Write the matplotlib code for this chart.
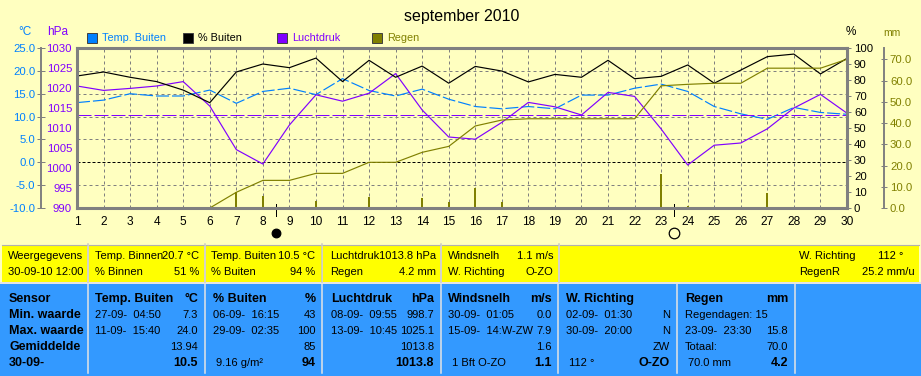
import matplotlib
matplotlib.use("Agg")
import matplotlib.pyplot as plt
from matplotlib.patches import Rectangle
from matplotlib.transforms import blended_transform_factory as btf

plt.rcParams['font.family'] = ['Liberation Sans', 'DejaVu Sans']
plt.rcParams['lines.scale_dashes'] = False

days = list(range(1, 31))
temp = [13.05,13.6,15.0,14.5,14.5,15.8,12.9,15.5,16.2,14.8,18.3,15.7,14.5,16.0,13.8,
        12.2,11.7,12.2,11.7,14.7,14.7,16.2,17.1,15.5,12.2,10.6,9.4,12.0,10.9,10.5]
hum = [82.5,85,81.7,79,73.7,65.8,85,90,87.7,93.7,79,92.3,81.7,88.7,78,
       88.5,85.6,78.8,83.5,81.7,92.3,80.8,82.3,89.4,78,86.2,94.6,96.2,83.8,93.5]
press = [1020.5,1019.4,1019.9,1020.5,1021.6,1015.5,1004.6,1001,1010.75,1018.3,1016.7,1018.7,1023.6,1014.5,1007.75,
         1007.2,1011.4,1016.4,1015.3,1013.25,1018.9,1017.9,1009.75,1000.75,1005.7,1006.25,1009.8,1015,1018.4,1013.7]
rain_days = days[5:]
rain_total = [0,7.4,13,13,16.3,16.3,21.5,21.5,26.2,29,38.6,41.4,42,42,42,42,42,57.5,58.2,58.7,58.7,65.8,65.8,65.8,70]
bar_days = [7,8,10,12,14,15,16,17,23,24,27,30]
bar_vals = [7.4,5.6,3.4,5.2,4.7,3.0,9.3,2.8,16.0,0.8,7.0,4.2]
press_mean = 1013.2
moon_days = [8.5, 23.5]

temp_ticks = [-10,-5,0,5,10,15,20,25]
press_ticks = list(range(990,1031,5))
hum_ticks = list(range(0,101,10))
rain_ticks = [0,10,20,30,40,50,60,70]

W, H = 921, 376
BG = '#FFFFC0'; BLUE = '#0080FF'; PUR = '#8000FF'; OLV = '#808000'; GRY = '#808080'
PANEL_BLUE = '#3399FF'; PANEL_YEL = '#FFFF00'; SEP = '#E4E4E4'
px = 72/100
LW = 0.85

fig = plt.figure(figsize=(W/100, H/100), dpi=100, facecolor=BG)
pos = [77/W, 1-208/H, 770/W, 160/H]

bg = fig.add_axes([0,0,1,1]); bg.set_xlim(0,W); bg.set_ylim(H,0); bg.axis('off')

def mk():
    a = fig.add_axes(pos); a.patch.set_visible(False); a.set_xlim(1,30)
    for s in a.spines.values(): s.set_visible(False)
    a.set_xticks([]); a.set_yticks([]); a.minorticks_off()
    return a

ax_t = mk(); ax_p = mk(); ax_h = mk(); ax_r = mk()
ax_t.set_ylim(-10,25); ax_p.set_ylim(990,1030); ax_h.set_ylim(0,100); ax_r.set_ylim(0,75.3)

# grid
for d in days[1:-1]:
    ax_t.axvline(d, color=GRY, lw=px, ls=(0,(3*px,3*px)))
for t in [-5,5,10,15,20]:
    ax_t.axhline(t, color=GRY, lw=px, ls=(0,(3*px,3*px)))
ax_t.axhline(0, color='black', lw=px, ls=(0,(3*px,2*px)))

# temp axis
ax_t.set_yticks(temp_ticks)
ax_t.set_yticklabels([f'{v:.1f}' for v in temp_ticks])
ax_t.spines['left'].set_visible(True); ax_t.spines['left'].set_position(('outward', 36*px))
ax_t.spines['left'].set_color(GRY); ax_t.spines['left'].set_linewidth(1.4)
ax_t.tick_params(axis='y', direction='inout', length=6, width=px, color=GRY, pad=1,
                 labelsize=8.2, labelcolor=BLUE)
ax_t.plot(days, temp, color=BLUE, lw=LW, ls=(0,(13*px,3*px)), zorder=3)

# pressure
ax_p.set_yticks(press_ticks)
ax_p.set_yticklabels([str(v) for v in press_ticks])
ax_p.tick_params(axis='y', length=0, pad=3.6, labelsize=8.2, labelcolor=PUR)
ax_p.axhline(press_mean, color=PUR, lw=px, ls=(0,(14*px,3*px)))
ax_p.plot(days, press, color=PUR, lw=LW, zorder=4)

# humidity
ax_h.yaxis.tick_right()
ax_h.set_yticks(hum_ticks)
ax_h.set_yticklabels([str(v) for v in hum_ticks])
ax_h.tick_params(axis='y', length=3, width=px, color=GRY, pad=2, labelsize=8.2, labelcolor='black')
ax_h.plot(days, hum, color='black', lw=LW, zorder=4)

# rain
ax_r.yaxis.tick_right()
ax_r.set_yticks(rain_ticks)
ax_r.set_yticklabels([f'{v:.1f}' for v in rain_ticks])
ax_r.spines['right'].set_visible(True); ax_r.spines['right'].set_position(('outward', 37*px))
ax_r.spines['right'].set_color(GRY); ax_r.spines['right'].set_linewidth(1.4)
ax_r.tick_params(axis='y', direction='inout', length=4.5, width=px, color=GRY, pad=2,
                 labelsize=8.2, labelcolor=OLV)
ax_r.vlines(bar_days, 0, bar_vals, color=OLV, lw=2*px, zorder=3)
ax_r.plot(rain_days, rain_total, color=OLV, lw=LW, zorder=4)

# frame + x labels on top axis
top = mk()
top.set_ylim(0,1)
for s in top.spines.values():
    s.set_visible(True); s.set_color(GRY); s.set_linewidth(2.2)
top.set_xticks(days)
top.set_xticklabels([str(d) for d in days])
top.tick_params(axis='x', length=0, pad=6, labelsize=8.6, labelcolor='black')
tr = btf(top.transData, bg.transData)
for m, fc, ms in zip(moon_days, ['black', 'none'], [6.2, 7.6]):
    top.plot([m, m], [204, 216], color='black', lw=px, transform=tr, clip_on=False)
    top.plot([m], [233], marker='o', ms=ms, mfc=fc, mec='black', mew=0.9, transform=tr, clip_on=False)

# title, units, legend
bg.text(462, 16, 'september 2010', ha='center', va='center', fontsize=11.5, color='black')
bg.text(25, 32, '°C', ha='center', va='center', fontsize=8.5, color=BLUE)
bg.text(58, 32, 'hPa', ha='center', va='center', fontsize=8.5, color=PUR)
bg.text(851, 32, '%', ha='center', va='center', fontsize=8.5, color='black')
bg.text(892, 33, 'mm', ha='center', va='center', fontsize=7.5, color=OLV)

legend_names = ['Temp. Buiten', '% Buiten', 'Luchtdruk', 'Regen']
legend_x = [87, 183, 277, 372]
legend_cols = [BLUE, 'black', PUR, OLV]
for n, x, c in zip(legend_names, legend_x, legend_cols):
    bg.add_patch(Rectangle((x, 33), 10, 10, fc=c, ec='#404040', lw=0.7))
    bg.text(x+15, 38, n, va='center', ha='left', fontsize=7.8, color=c)

# panels
yel_cols = [(2,87),(89,204),(206,322),(323,440),(442,558),(560,919)]
blue_cols = [(2,87),(89,204),(206,322),(323,440),(442,558),(559,676),(678,795),(796,921)]
bg.add_patch(Rectangle((0,282),W,2,fc=SEP,ec='none'))
for a,b in yel_cols:
    bg.add_patch(Rectangle((a,245),b-a,37,fc=PANEL_YEL,ec='none'))
    bg.plot([a,b],[244.5,244.5],color='#B0B0B0',lw=0.8)
bg.add_patch(Rectangle((0,284),W,92,fc=PANEL_BLUE,ec='none'))
for a,_ in blue_cols[1:]:
    bg.plot([a-1,a-1],[284,373],color=SEP,lw=1.1)
for a,_ in yel_cols[1:]:
    bg.plot([a-1,a-1],[244,282],color='#C8C8C8',lw=1.1)

FS = 8
def T(x,y,s,ha='left',w='normal',fs=FS):
    bg.text(x,y,s,ha=ha,va='center',fontsize=fs,fontweight=w,color='black')

yellow_left = [(8,'Weergegevens','30-09-10 12:00'),(95,'Temp. Binnen','% Binnen'),(211,'Temp. Buiten','% Buiten'),
               (330,'Luchtdruk','Regen'),(448,'Windsnelh','W. Richting'),(799,'W. Richting','RegenR')]
yellow_right = [(199,'20.7 °C','51 %'),(315,'10.5 °C','94 %'),(436,'1013.8 hPa','4.2 mm'),
                (553,'1.1 m/s','O-ZO')]
for x,a,b in yellow_left:
    T(x,256,a); T(x,272,b)
for x,a,b in yellow_right:
    T(x,256,a,ha='right'); T(x,272,b,ha='right')
T(903,256,'112 °',ha='right'); T(915,272,'25.2 mm/u',ha='right')

rows = [299,315,331,347,363]
for y,s in zip(rows,['Sensor','Min. waarde','Max. waarde','Gemiddelde','30-09-']):
    T(9,y,s,w='bold',fs=9)

def col(xl,xr,title,unit,l1,r1,l2,r2,r3,l4,r4,xl4=None):
    T(xl,rows[0],title,w='bold',fs=9)
    if unit: T(xr,rows[0],unit,ha='right',w='bold',fs=9)
    if l1: T(xl,rows[1],l1)
    if r1: T(xr,rows[1],r1,ha='right')
    if l2: T(xl,rows[2],l2)
    if r2: T(xr,rows[2],r2,ha='right')
    if r3: T(xr,rows[3],r3,ha='right')
    if l4: T(xl4 or xl,rows[4],l4)
    if r4: T(xr,rows[4],r4,ha='right',w='bold',fs=9)

col(95,198,'Temp. Buiten','°C','27-09-  04:50','7.3','11-09-  15:40','24.0','13.94','','10.5')
col(213,316,'% Buiten','%','06-09-  16:15','43','29-09-  02:35','100','85','9.16 g/m²','94',xl4=216)
col(331,434,'Luchtdruk','hPa','08-09-  09:55','998.7','13-09-  10:45','1025.1','1013.8','','1013.8')
col(448,552,'Windsnelh','m/s','30-09-  01:05','0.0','15-09-  14:W-ZW','7.9','1.6','1 Bft O-ZO','1.1',xl4=452)
col(566,670,'W. Richting','','02-09-  01:30','N','30-09-  20:00','N','ZW','112 °','O-ZO',xl4=569)
col(685,788,'Regen','mm','Regendagen: 15','','23-09-  23:30','15.8','70.0','70.0 mm','4.2',xl4=688)
T(685,rows[3],'Totaal:')

fig.savefig('out.png', dpi=100, facecolor=BG)
